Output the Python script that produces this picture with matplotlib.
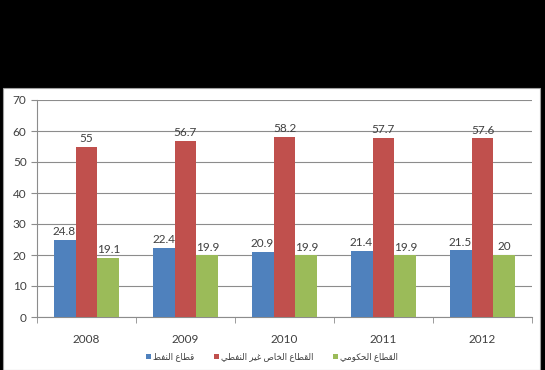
import matplotlib
matplotlib.use("Agg")
import matplotlib.pyplot as plt
import numpy as np
from matplotlib.patches import Rectangle

plt.rcParams['font.family'] = ['Lato', 'DejaVu Sans']

# данные
years = ['2008', '2009', '2010', '2011', '2012']
oil = [24.8, 22.4, 20.9, 21.4, 21.5]
private_non_oil = [55, 56.7, 58.2, 57.7, 57.6]
government = [19.1, 19.9, 19.9, 19.9, 20]
series_names = ['قطاع النفط', 'القطاع الخاص غير النفطي', 'القطاع الحكومي']
colors = ['#4F81BD', '#C0504D', '#9BBB59']

# формы арабских букв: изолированная, конечная, начальная, срединная
FORMS = {
    'ا': (0xFE8D, 0xFE8E, None, None),
    'ر': (0xFEAD, 0xFEAE, None, None),
    'و': (0xFEED, 0xFEEE, None, None),
    'ق': (0xFED5, 0xFED6, 0xFED7, 0xFED8),
    'ط': (0xFEC1, 0xFEC2, 0xFEC3, 0xFEC4),
    'ع': (0xFEC9, 0xFECA, 0xFECB, 0xFECC),
    'ل': (0xFEDD, 0xFEDE, 0xFEDF, 0xFEE0),
    'ن': (0xFEE5, 0xFEE6, 0xFEE7, 0xFEE8),
    'ف': (0xFED1, 0xFED2, 0xFED3, 0xFED4),
    'خ': (0xFEA5, 0xFEA6, 0xFEA7, 0xFEA8),
    'ص': (0xFEB9, 0xFEBA, 0xFEBB, 0xFEBC),
    'غ': (0xFECD, 0xFECE, 0xFECF, 0xFED0),
    'ي': (0xFEF1, 0xFEF2, 0xFEF3, 0xFEF4),
    'ح': (0xFEA1, 0xFEA2, 0xFEA3, 0xFEA4),
    'ك': (0xFED9, 0xFEDA, 0xFEDB, 0xFEDC),
    'م': (0xFEE1, 0xFEE2, 0xFEE3, 0xFEE4),
}


def shape(text):
    # matplotlib не соединяет арабские буквы сам, делаем это вручную
    out = []
    for i, ch in enumerate(text):
        if ch not in FORMS:
            out.append(ch)
            continue
        prev = text[i - 1] if i > 0 else ' '
        nxt = text[i + 1] if i + 1 < len(text) else ' '
        joins_prev = prev in FORMS and FORMS[prev][2] is not None
        joins_next = FORMS[ch][2] is not None and nxt in FORMS
        iso, fin, ini, med = FORMS[ch]
        if joins_prev and joins_next:
            code = med
        elif joins_prev:
            code = fin
        elif joins_next:
            code = ini
        else:
            code = iso
        out.append(chr(code))
    return ''.join(out)[::-1]


fig = plt.figure(figsize=(5.45, 3.70), dpi=100)
fig.patch.set_facecolor('black')
# белая панель под графиком
fig.add_artist(Rectangle((3 / 545, 0), 537 / 545, 282 / 370, transform=fig.transFigure,
                         facecolor='white', edgecolor='#A0A0A0', linewidth=0.8, zorder=0))

ax = fig.add_axes([37 / 545, 53 / 370, 495 / 545, 217 / 370])
ax.set_facecolor('white')

x = np.arange(len(years))
w = 0.222
data = [oil, private_non_oil, government]
for k, (vals, name, c) in enumerate(zip(data, series_names, colors)):
    bars = ax.bar(x + (k - 1) * w, vals, w, color=c, label=shape(name), zorder=3)
    ax.bar_label(bars, labels=[f'{v:g}' for v in vals], padding=2, fontsize=8.5, color='#404040')

ax.set_ylim(0, 70)
ax.set_xlim(-0.5, len(years) - 0.5)
ax.set_yticks(range(0, 71, 10))
ax.yaxis.grid(True, color='#8C8C8C', linewidth=0.8, zorder=0)
ax.set_xticks(x)
ax.set_xticklabels(years)
ax.set_xticks(np.arange(-0.5, len(years), 1), minor=True)
ax.tick_params(axis='x', which='major', length=0, pad=12, labelsize=8.5, labelcolor='#404040')
ax.tick_params(axis='x', which='minor', length=4, color='#8C8C8C')
ax.tick_params(axis='y', length=4, color='#8C8C8C', labelsize=8.5, labelcolor='#404040')
for s in ['top', 'right']:
    ax.spines[s].set_visible(False)
for s in ['left', 'bottom']:
    ax.spines[s].set_color('#8C8C8C')

ax.legend(loc='center', bbox_to_anchor=(272 / 545, 13 / 370), bbox_transform=fig.transFigure,
          ncol=3, frameon=False, fontsize=6.2, handlelength=0.6, handleheight=0.6,
          handletextpad=0.3, columnspacing=2.2, labelcolor='#404040')

plt.savefig('out.png', dpi=100, facecolor=fig.get_facecolor())
